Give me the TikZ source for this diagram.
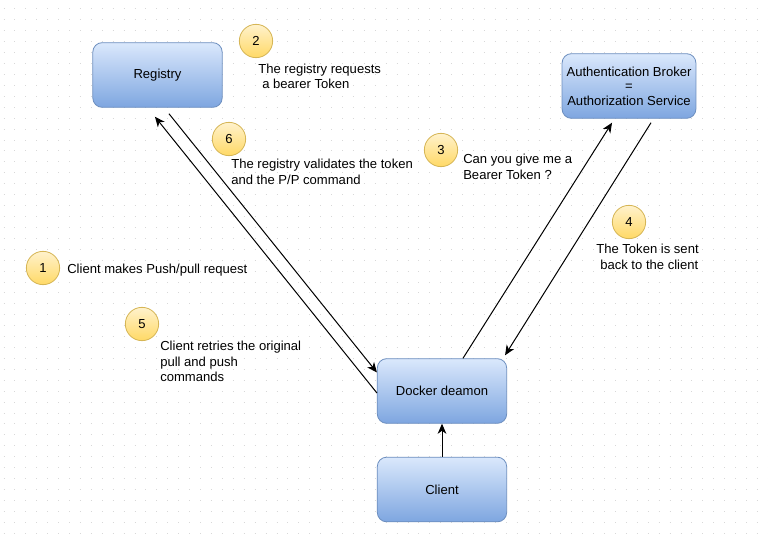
\documentclass[tikz,border=0pt]{standalone}
\usepackage{fontspec}
\setmainfont{Liberation Sans}
\usetikzlibrary{arrows.meta}
\definecolor{boxtop}{HTML}{DAE8FC}
\definecolor{boxbot}{HTML}{7EA6E0}
\definecolor{boxline}{HTML}{6C8EBF}
\definecolor{badgetop}{HTML}{FFF2CC}
\definecolor{badgebot}{HTML}{FFD966}
\definecolor{badgeline}{HTML}{D6B656}
\definecolor{dotgray}{HTML}{D8D8D8}
\begin{document}
\begin{tikzpicture}[x=0.75pt,y=-0.75pt,
  font=\fontsize{9.8}{11}\selectfont,
  box/.style={draw=boxline, rounded corners=7pt, top color=boxtop, bottom color=boxbot,
    minimum width=97pt, minimum height=48.5pt, align=center, line width=0.6pt},
  badge/.style={circle, draw=badgeline, top color=badgetop, bottom color=badgebot,
    minimum size=25pt, inner sep=0pt, line width=0.6pt},
  note/.style={align=left, inner sep=0pt, font=\fontsize{9.8}{11.6}\selectfont},
  flow/.style={-{Stealth[length=7.5pt,width=6.5pt,inset=2.2pt]}, line width=0.75pt}]
  \useasboundingbox (0,0) rectangle (768,542);
  \fill[white] (0,0) rectangle (768,542);
  % dotted grid
  \foreach \gy in {0,...,48}
    \draw[dotgray, line width=0.75pt, dash pattern=on 0.75pt off 7.44pt]
      (3.5,9+\gy*10.92) -- (768,9+\gy*10.92);

  \node [box] (registry) at (157.5,75) {Registry};
  \node [box] (auth) at (629,86) {Authentication Broker\\=\\Authorization Service};
  \node [box] (docker) at (442,391) {Docker deamon};
  \node [box] (client) at (442,489.5) {Client};

  \node [badge] (b1) at (43,268)  {1};
  \node [badge] (b2) at (256,41)  {2};
  \node [badge] (b3) at (441,150) {3};
  \node [badge] (b4) at (629,222) {4};
  \node [badge] (b5) at (142,324) {5};
  \node [badge] (b6) at (229,139) {6};

  \node [note, anchor=west] (t1) at (67,270) {Client makes Push/pull request};
  \node [note, anchor=north west] (t2) at (258,63.5) {The registry requests\\\hspace{3pt}a bearer Token};
  \node [note, anchor=north west] (t3) at (463,154) {Can you give me a\\Bearer Token ?};
  \node [note, anchor=north west] (t4) at (596,244) {The Token is sent\\\hspace{3pt}back to the client};
  \node [note, anchor=north west] (t5) at (160,341) {Client retries the original\\pull and push\\commands};
  \node [note, anchor=north west] (t6) at (231,159) {The registry validates the token\\and the P/P command};

  \draw [flow] ([xshift=8.6pt,yshift=-4.5pt]registry.south) -- ([yshift=13.9pt]docker.west);
  \draw [flow] ([yshift=-1.5pt]docker.west) -- ([xshift=-1.9pt,yshift=-6.75pt]registry.south);
  \draw [flow] ([xshift=15.75pt]docker.north) -- ([xshift=-12.75pt,yshift=-3pt]auth.south);
  \draw [flow] ([xshift=16.5pt,yshift=-3pt]auth.south) -- ([xshift=-1.5pt,yshift=2.25pt]docker.north east);
  \draw [flow] (client.north) -- (docker.south);
\end{tikzpicture}
\end{document}
